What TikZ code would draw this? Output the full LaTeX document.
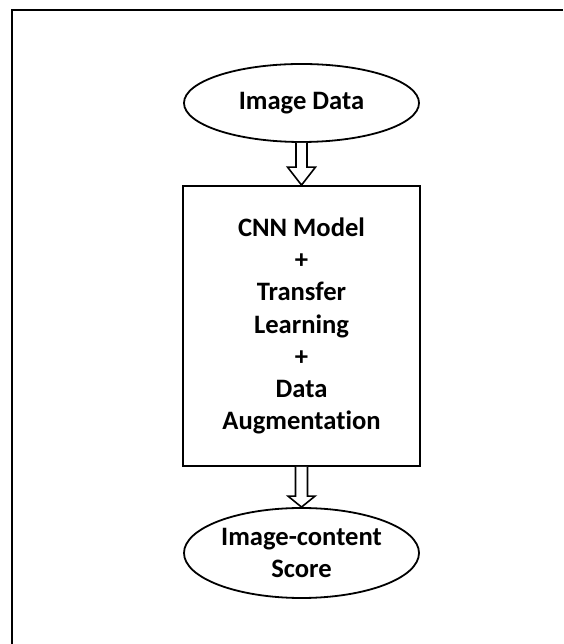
\documentclass[tikz,border=0pt]{standalone}
\usepackage{fontspec}
\setmainfont{Carlito}[Ligatures=NoCommon]
\usetikzlibrary{shapes.geometric,calc}
\begin{document}
\begin{tikzpicture}[x=1pt,y=1pt,
  txt/.style={font=\bfseries\fontsize{26.6}{32.3}\selectfont,align=center},
  oval/.style={ellipse,draw,line width=1.8pt,inner sep=0pt,txt},
  bigbox/.style={rectangle,draw,line width=1.8pt,inner sep=0pt,txt},
  blockarrow/.style={draw,line width=1.6pt,fill=white,line join=miter}]
\useasboundingbox (0,0) rectangle (563,644);
\draw[line width=2.5pt] (12,0) -- (12,634) -- (563,634);
\node[oval,minimum width=235,minimum height=78] (img) at (301.5,541) {\raisebox{-2pt}{Image Data}};
\node[bigbox,minimum width=237,minimum height=280] (model) at (301.5,318)
  {CNN Model\\+\\Transfer\\Learning\\+\\Data\\Augmentation};
\node[oval,minimum width=235,minimum height=90] (score) at (301.5,91)
  {Image-content\\Score};
\draw[blockarrow] ($(img.south)+(-5.5,0)$) -- ($(model.north)+(-5.5,18)$)
  -- ($(model.north)+(-14,18)$) -- (model.north) -- ($(model.north)+(14,18)$)
  -- ($(model.north)+(5.5,18)$) -- ($(img.south)+(5.5,0)$);
\draw[blockarrow] ($(model.south)+(-6,0)$) -- ($(score.north)+(-6,11)$)
  -- ($(score.north)+(-13.5,11)$) -- (score.north) -- ($(score.north)+(13.5,11)$)
  -- ($(score.north)+(6,11)$) -- ($(model.south)+(6,0)$);
\end{tikzpicture}
\end{document}
